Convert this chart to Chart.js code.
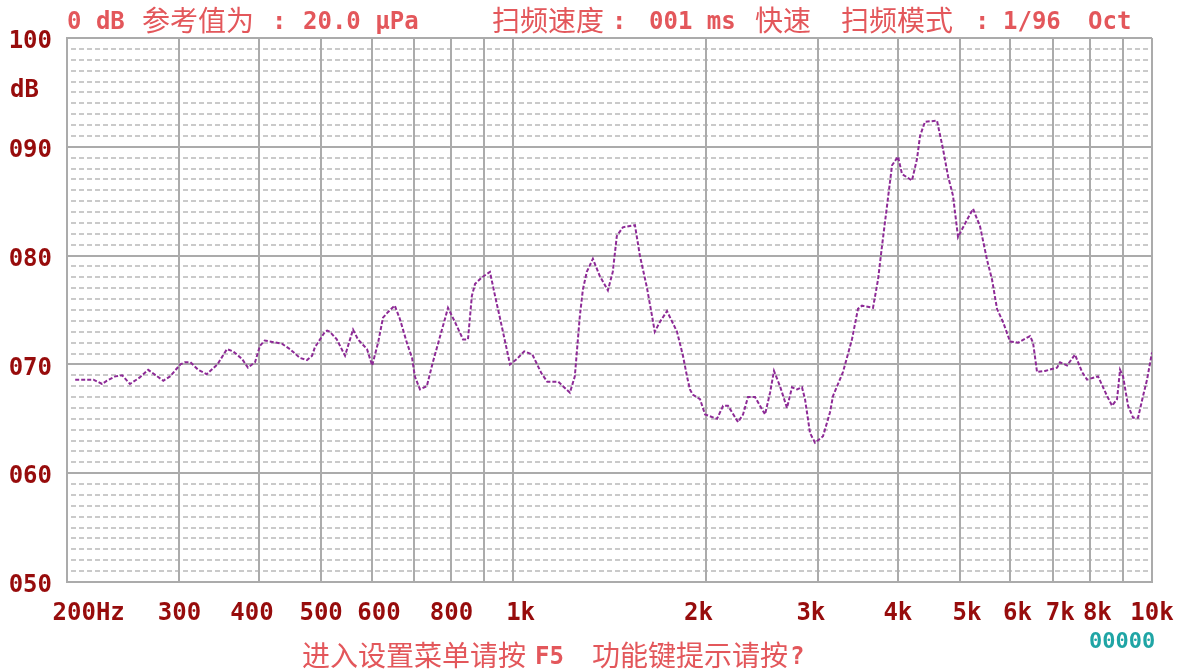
<!DOCTYPE html>
<html>
<head>
<meta charset="utf-8">
<title>扫频曲线</title>
<script src="https://cdn.jsdelivr.net/npm/chart.js@4.4.1/dist/chart.umd.min.js"></script>
<style>
  html, body { margin: 0; padding: 0; background: #ffffff; }
  #wrap { width: 1182px; height: 672px; }
</style>
</head>
<body>
<div id="wrap"><canvas id="chart" width="1182" height="672"></canvas></div>
<script>
// sweep trace: frequency (Hz) / level (dB)
const freqs = [
  206, 220, 227, 231, 238, 244, 251, 260, 268, 283, 290, 301, 306, 312, 321, 331, 344, 356, 364, 376,
  384, 394, 401, 408, 434, 447, 463, 475, 484, 489, 493, 507, 511, 516, 529, 545, 561, 571, 590, 601,
  614, 625, 636, 652, 664, 681, 694, 701, 714, 732, 748, 773, 790, 810, 834, 849, 861, 871, 893, 919,
  936, 959, 988, 1013, 1040, 1071, 1106, 1130, 1176, 1226, 1248, 1271, 1285, 1303, 1332, 1366, 1406, 1431, 1452, 1484,
  1550, 1578, 1618, 1648, 1665, 1696, 1740, 1804, 1843, 1870, 1890, 1911, 1960, 1996, 2084, 2130, 2168, 2248, 2289, 2330,
  2390, 2478, 2523, 2559, 2615, 2682, 2731, 2781, 2831, 2862, 2914, 2967, 3054, 3132, 3166, 3282, 3390, 3464, 3515, 3657,
  3724, 3778, 3847, 3917, 4002, 4060, 4209, 4286, 4333, 4411, 4606, 4707, 4793, 4880, 4969, 5133, 5245, 5379, 5517, 5617,
  5719, 5844, 5994, 6169, 6442, 6512, 6607, 6800, 7101, 7178, 7362, 7577, 7771, 7912, 8232, 8504, 8659, 8816, 8912, 9009,
  9173, 9340, 9510, 9683, 9823, 10000
];
const levels = [
  68.6, 68.6, 68.2, 68.5, 68.9, 69.0, 68.2, 68.8, 69.5, 68.5, 68.9, 70.0, 70.2, 70.2, 69.5, 69.1, 70.0, 71.4, 71.2, 70.5,
  69.7, 70.2, 71.7, 72.2, 71.9, 71.4, 70.6, 70.4, 70.8, 71.6, 71.9, 73.0, 73.1, 73.0, 72.3, 70.8, 73.2, 72.3, 71.4, 69.9,
  72.0, 74.3, 74.8, 75.4, 74.2, 72.0, 70.6, 68.9, 67.7, 68.0, 70.2, 73.2, 75.2, 73.9, 72.3, 72.3, 76.3, 77.4, 78.0, 78.5,
  76.3, 73.5, 70.0, 70.5, 71.2, 70.9, 69.2, 68.4, 68.4, 67.4, 68.9, 74.5, 76.9, 78.5, 79.7, 78.1, 76.8, 78.5, 81.8, 82.6,
  82.8, 80.0, 77.1, 74.5, 73.0, 73.9, 74.9, 73.0, 70.8, 68.9, 67.7, 67.2, 66.8, 65.4, 65.0, 66.2, 66.2, 64.7, 65.4, 67.0,
  67.0, 65.4, 67.4, 69.4, 68.0, 66.0, 67.9, 67.7, 67.9, 66.8, 63.7, 62.8, 63.4, 65.6, 67.1, 69.3, 72.3, 75.1, 75.4, 75.2,
  77.8, 80.9, 84.6, 88.3, 89.1, 87.5, 86.9, 88.9, 91.0, 92.3, 92.4, 89.8, 87.3, 85.5, 81.7, 83.3, 84.3, 82.7, 79.6, 77.8,
  75.1, 73.9, 72.1, 72.0, 72.6, 72.0, 69.3, 69.4, 69.7, 70.2, 69.9, 70.9, 69.3, 68.6, 68.9, 67.1, 66.2, 66.8, 69.5, 68.9,
  66.2, 65.1, 65.1, 67.1, 68.6, 71.1
];

// axis ticks (spaces nudge the labels the way the analyser screen places them)
const xTickValues = [200, 300, 400, 500, 600, 700, 800, 900, 1000, 2000, 3000, 4000, 5000, 6000, 7000, 8000, 9000, 10000];
const xTickLabels = ['   200Hz', '300', '400 ', '500', ' 600', '', '800', '', ' 1k', '2k ', '3k ', '4k', ' 5k', ' 6k', ' 7k', ' 8k', '', '10k'];
const yTickValues = [50, 60, 70, 80, 90, 100];
const yTickLabels = ['050', '060', '070', '080', '090', '100'];

const MONO = '"DejaVu Sans Mono", monospace';
const CJK = '"Noto Sans CJK SC", sans-serif';
const RED = '#e3575b';
const DARKRED = '#970c0c';
const GRID = '#ababab';

// dashed 1 dB lines under the solid 10 dB grid
const minorGrid = {
  id: 'minorGrid',
  beforeDraw(chart) {
    const { ctx, chartArea, scales } = chart;
    const y = scales.y;
    ctx.save();
    ctx.strokeStyle = '#b9b9b9';
    ctx.lineWidth = 1.5;
    ctx.setLineDash([5, 3]);
    for (let v = 51; v < 100; v++) {
      if (v % 10 === 0) continue;
      const py = Math.round(y.getPixelForValue(v));
      ctx.beginPath();
      ctx.moveTo(chartArea.left + 4, py);
      ctx.lineTo(chartArea.right, py);
      ctx.stroke();
    }
    ctx.restore();
  }
};

// screen texts: header, footer, unit, counter
const screenText = {
  id: 'screenText',
  afterDraw(chart) {
    const { ctx, scales } = chart;
    const put = (txt, x, y, font, color) => {
      ctx.font = font;
      ctx.fillStyle = color;
      ctx.textAlign = 'left';
      ctx.textBaseline = 'alphabetic';
      ctx.fillText(txt, x, y);
    };
    ctx.save();
    const asc = 'bold 24px ' + MONO;
    const cjk = '28px ' + CJK;
    put('0 dB', 67, 29, asc, RED);
    put('参考值为', 142, 31, cjk, RED);
    put(':', 272, 29, asc, RED);
    put('20.0 μPa', 303, 29, asc, RED);
    put('扫频速度', 492, 31, cjk, RED);
    put(':', 612, 29, asc, RED);
    put('001 ms', 649, 29, asc, RED);
    put('快速', 755, 31, cjk, RED);
    put('扫频模式', 841, 31, cjk, RED);
    put(':', 975, 29, asc, RED);
    put('1/96', 1003, 29, asc, RED);
    put('Oct', 1088, 29, asc, RED);

    put('dB', 10, scales.y.getPixelForValue(95.3) + 8, asc, DARKRED);

    put('进入设置菜单请按', 302, 666, cjk, RED);
    put('F5', 535, 664, asc, RED);
    put('功能键提示请按', 592, 666, cjk, RED);
    put('?', 790, 664, asc, RED);

    put('00000', 1089, 648, 'bold 22px ' + MONO, '#1fa5a5');
    ctx.restore();
  }
};

const points = freqs.map((f, i) => ({ x: f, y: levels[i] }));

new Chart(document.getElementById('chart').getContext('2d'), {
  type: 'line',
  data: {
    datasets: [{
      data: points,
      borderColor: '#8d2a96',
      borderWidth: 2,
      borderDash: [4, 2],
      pointRadius: 0,
      tension: 0,
      fill: false
    }]
  },
  options: {
    responsive: false,
    animation: false,
    devicePixelRatio: 1,
    layout: { autoPadding: false, padding: { top: 38, right: 30, left: 0, bottom: 0 } },
    plugins: { legend: { display: false }, tooltip: { enabled: false } },
    scales: {
      x: {
        type: 'logarithmic',
        min: 200,
        max: 10000,
        afterBuildTicks(scale) { scale.ticks = xTickValues.map(v => ({ value: v })); },
        afterFit(scale) {
          scale.height = 90;
          scale.paddingLeft = 0;
          scale.paddingRight = 0;
        },
        grid: { color: GRID, lineWidth: 2, drawTicks: false },
        border: { display: true, color: GRID, width: 2 },
        ticks: {
          autoSkip: false,
          maxRotation: 0,
          padding: 17,
          color: DARKRED,
          font: { family: MONO, size: 24, weight: 'bold' },
          callback: (v) => { const i = xTickValues.indexOf(v); return i < 0 ? '' : xTickLabels[i]; }
        }
      },
      y: {
        type: 'linear',
        min: 50,
        max: 100,
        afterBuildTicks(scale) { scale.ticks = yTickValues.map(v => ({ value: v })); },
        afterFit(scale) {
          scale.width = 67;
          scale.paddingTop = 0;
          scale.paddingBottom = 0;
        },
        grid: { color: GRID, lineWidth: 2, drawTicks: false },
        border: { display: true, color: GRID, width: 2 },
        ticks: {
          padding: 15,
          labelOffset: 4,
          color: DARKRED,
          font: { family: MONO, size: 24, weight: 'bold' },
          callback: (v) => { const i = yTickValues.indexOf(v); return i < 0 ? '' : yTickLabels[i]; }
        }
      }
    }
  },
  plugins: [minorGrid, screenText]
});
</script>
</body>
</html>
